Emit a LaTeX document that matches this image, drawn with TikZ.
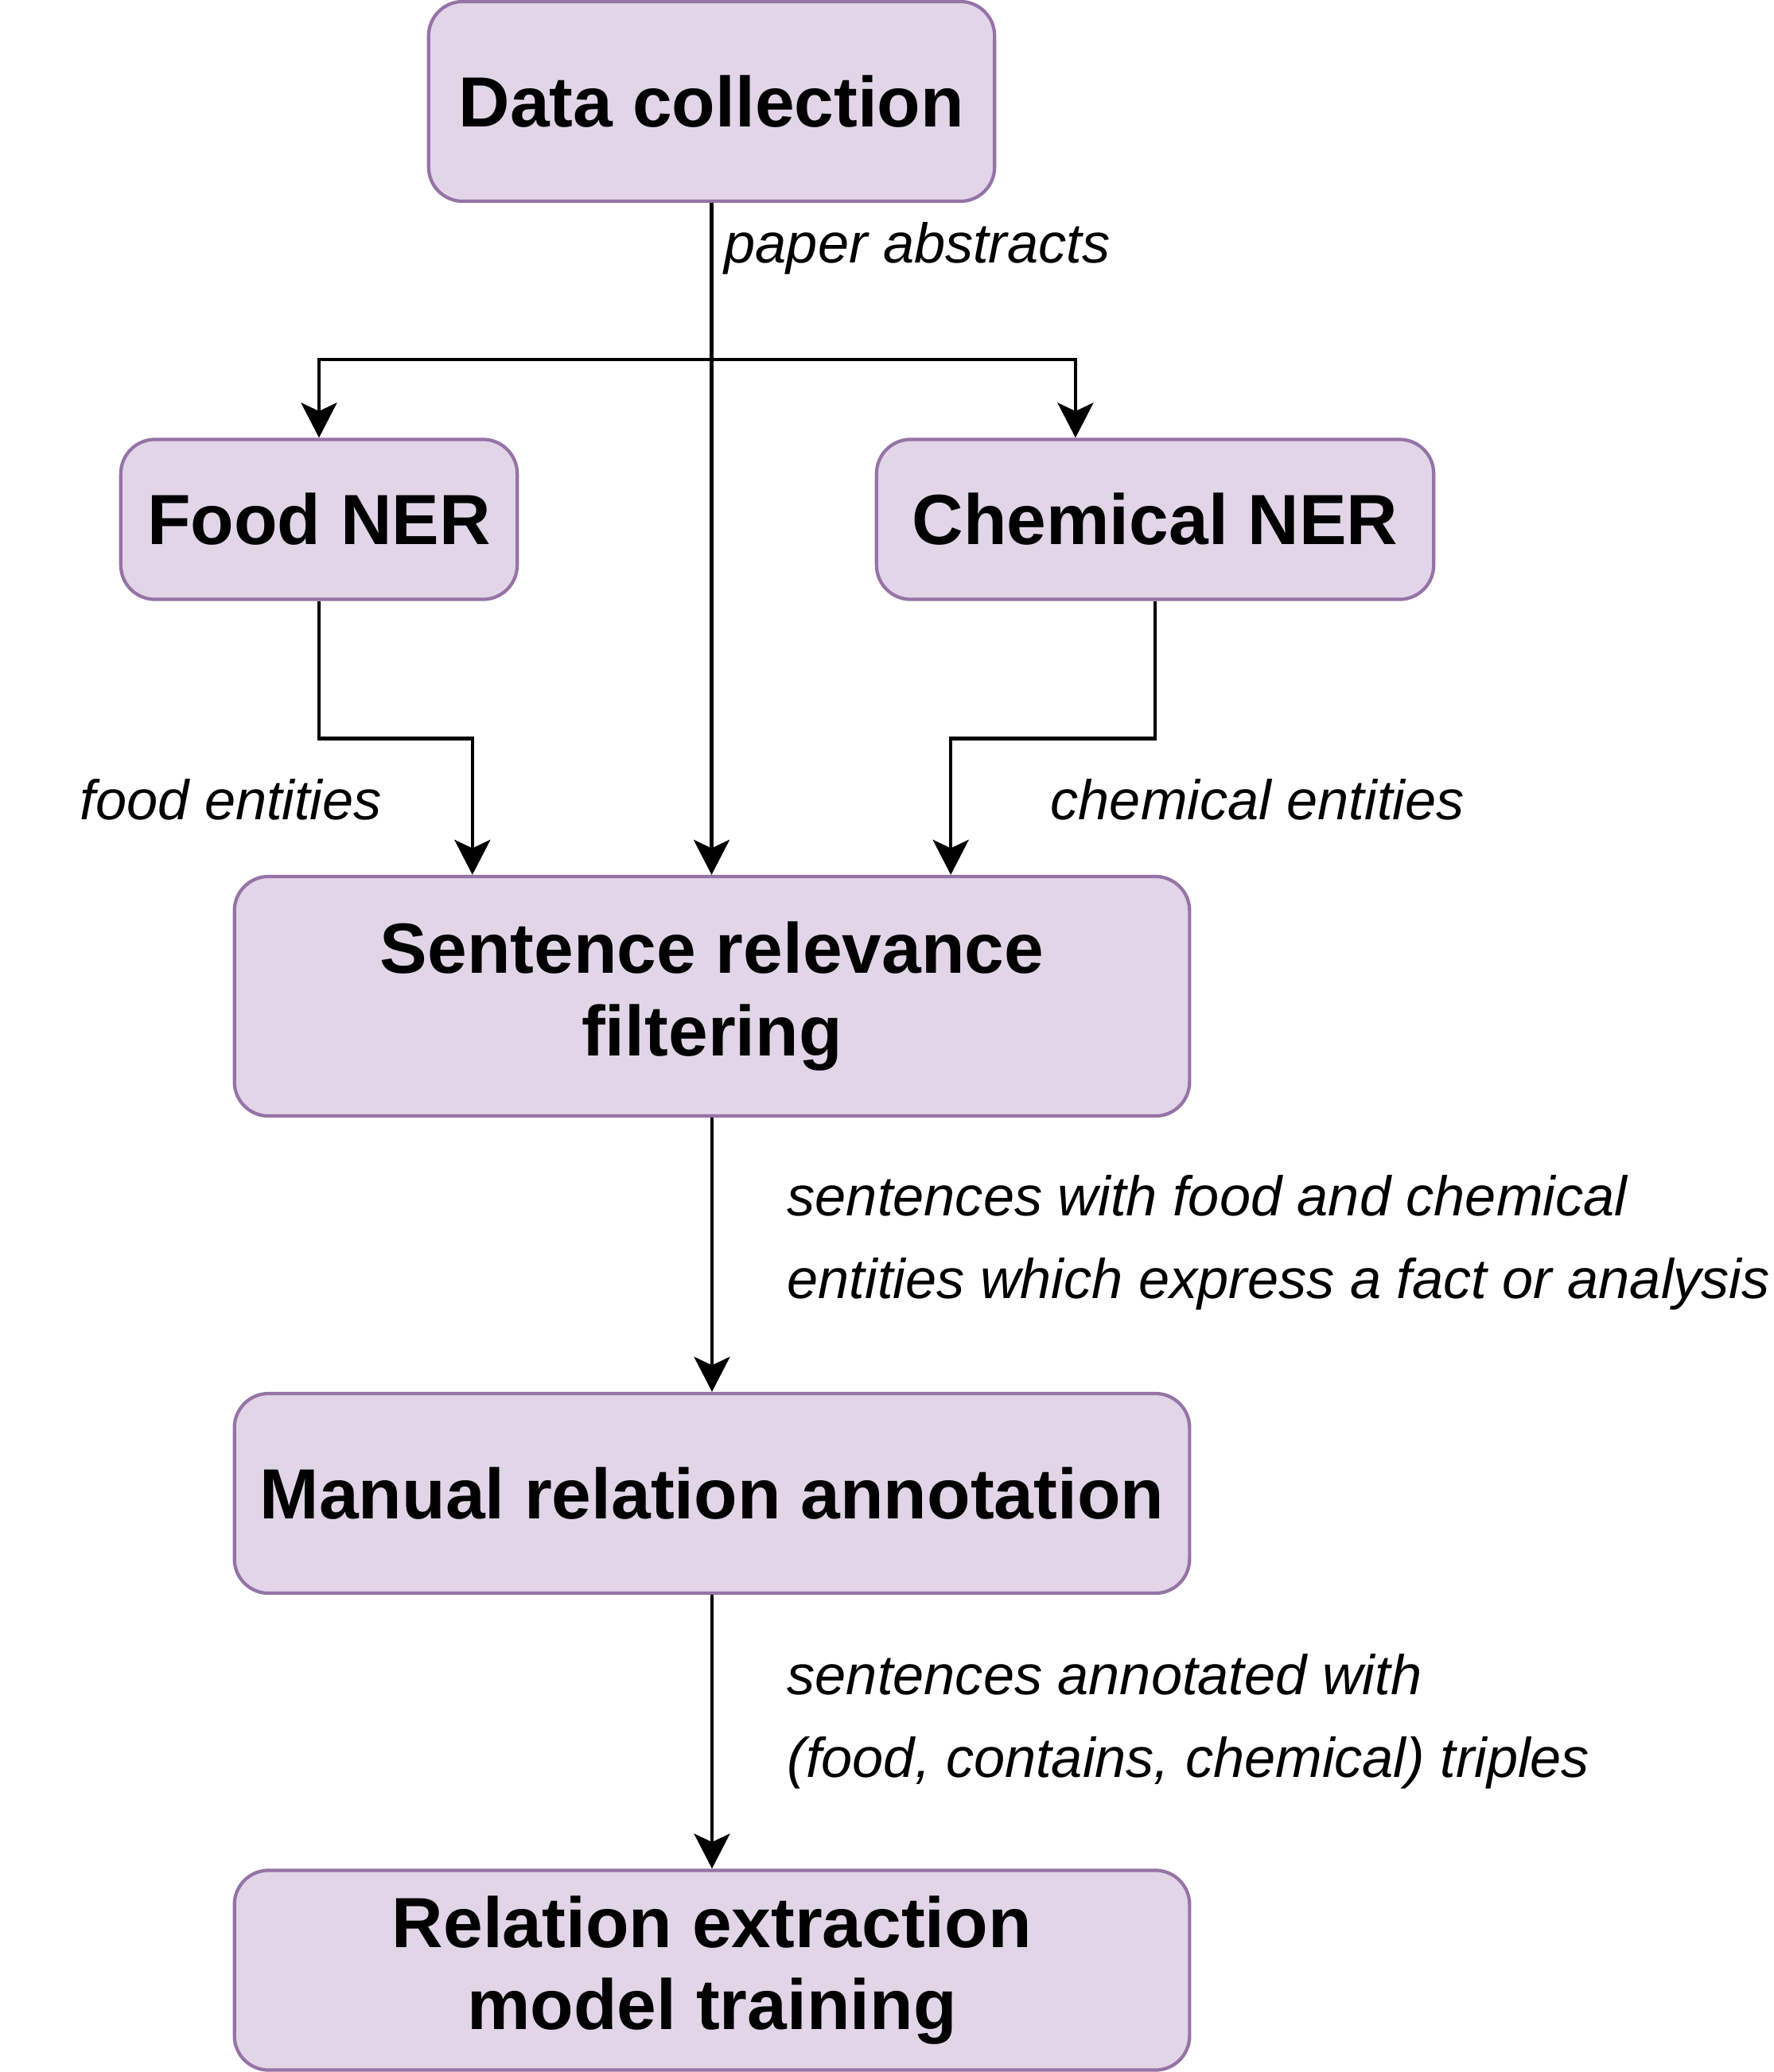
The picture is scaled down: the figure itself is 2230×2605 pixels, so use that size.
\documentclass[tikz,border=0pt]{standalone}
\usepackage{fontspec}
\setmainfont{Liberation Sans}
\usepackage{xcolor}
\usetikzlibrary{arrows.meta}

\definecolor{boxfill}{HTML}{E1D5E7}
\definecolor{boxline}{HTML}{9673A6}

\tikzset{
  stepbox/.style={rectangle, rounded corners=0.43cm, draw=boxline, fill=boxfill, line width=1.2pt, align=center, font=\fontsize{25.4}{29.5}\selectfont\bfseries},
  flow/.style={-{Stealth[length=12.5pt,width=12.8pt,inset=3pt]}, line width=1.3pt},
  note/.style={font=\fontsize{20}{29.5}\selectfont\itshape, inner sep=0pt, anchor=base west, align=left}
}

\begin{document}
\begin{tikzpicture}[x=0.01cm, y=-0.01cm]

\useasboundingbox (0,0) rectangle (2230,2605);

\node[stepbox, minimum width=7.11cm, minimum height=2.51cm] (data) at (894.5,127.5) {Data collection};

\node[stepbox, minimum width=4.98cm, minimum height=2.01cm] (food) at (401,653) {Food NER};

\node[stepbox, minimum width=7cm, minimum height=2.01cm] (chem) at (1452,653) {Chemical NER};

\node[stepbox, minimum width=12cm, minimum height=3.01cm] (sent) at (895,1252.5) {Sentence relevance\\filtering};

\node[stepbox, minimum width=12cm, minimum height=2.51cm] (manual) at (895,1877.5) {Manual relation annotation};

\node[stepbox, minimum width=12cm, minimum height=2.51cm] (train) at (895,2477) {Relation extraction\\model training};

\coordinate (fork) at (894.5,452);

\draw[flow] (data.south) -- (data.south |- sent.north);
\draw[flow] (data.south) -- (fork) -| (food.north);
\draw[flow] (data.south) -- (fork) -| ([xshift=-1cm]chem.north);
\draw[flow] (food.south) -- ++(0,173) -| ([xshift=-3.01cm]sent.north);
\draw[flow] (chem.south) -- ++(0,173) -| ([xshift=3cm]sent.north);
\draw[flow] (sent.south) -- (manual.north);
\draw[flow] (manual.south) -- (train.north);

% two-line notes sit on the baseline of their last line
\node[note] (lblpaper) at (910,330) {paper abstracts};
\node[note] (lblfood) at (100,1030) {food entities};
\node[note] (lblchem) at (1320,1030) {chemical entities};
\node[note] (lblsent) at (989,1632) {sentences with food and chemical\\entities which express a fact or analysis};
\node[note] (lblannot) at (989,2234) {sentences annotated with\\(food, contains, chemical) triples};

\end{tikzpicture}
\end{document}
